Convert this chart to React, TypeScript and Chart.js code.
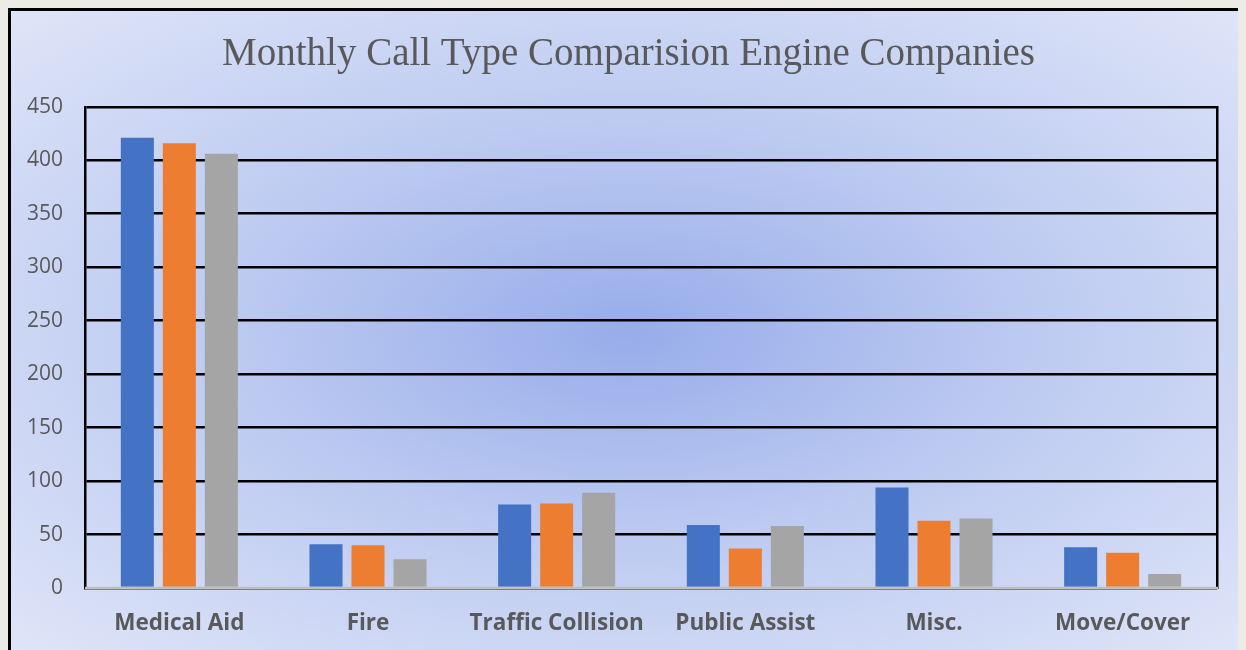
import React, { useEffect, useRef } from "react";
import { Chart, registerables } from "chart.js";

Chart.register(...registerables);

const categories = ["Medical Aid", "Fire", "Traffic Collision", "Public Assist", "Misc.", "Move/Cover"];
const seriesA = [421, 41, 78, 59, 94, 38];
const seriesB = [416, 40, 79, 37, 63, 33];
const seriesC = [406, 27, 89, 58, 65, 13];
const seriesNames = ["Engine A", "Engine B", "Engine C"];
const seriesColors = ["#4472C4", "#ED7D31", "#A5A5A5"];
const yTicks = [0, 50, 100, 150, 200, 250, 300, 350, 400, 450];
const titleText = "Monthly Call Type Comparision Engine Companies";

const baseLine = {
  id: "baseLine",
  afterDatasetsDraw(chart: any) {
    const { ctx, chartArea } = chart;
    ctx.save();
    ctx.strokeStyle = "#BFBFBF";
    ctx.lineWidth = 2.5;
    ctx.beginPath();
    ctx.moveTo(chartArea.left, chartArea.bottom);
    ctx.lineTo(chartArea.right + 1, chartArea.bottom);
    ctx.stroke();
    ctx.restore();
  },
};

export default function App() {
  const ref = useRef<HTMLCanvasElement>(null);
  useEffect(() => {
    document.body.style.background = "#ecebe6";
    document.body.style.overflow = "hidden";
    const chart = new Chart(ref.current!, {
      type: "bar",
      data: {
        labels: categories,
        datasets: [seriesA, seriesB, seriesC].map((d, i) => ({
          label: seriesNames[i],
          data: d,
          backgroundColor: seriesColors[i],
          categoryPercentage: 0.668,
          barPercentage: 0.786,
        })),
      },
      options: {
        responsive: false,
        animation: false,
        layout: { padding: 0 },
        plugins: {
          legend: { display: false },
          tooltip: { enabled: false },
          title: {
            display: true,
            text: titleText,
            color: "#595959",
            font: { family: "'Liberation Serif', 'Times New Roman', serif", size: 39, weight: "normal" },
            padding: { top: 20, bottom: 29 },
          },
        },
        scales: {
          x: {
            grid: { display: false, drawTicks: false },
            border: { display: false },
            afterFit: (axis: any) => {
              axis.height = 62;
            },
            ticks: {
              color: "#595959",
              padding: 22,
              font: { family: "'Open Sans', sans-serif", size: 22.5, weight: "bold" },
            },
          },
          y: {
            min: 0,
            max: 450,
            afterBuildTicks: (axis: any) => {
              axis.ticks = yTicks.map((v) => ({ value: v }));
            },
            afterFit: (axis: any) => {
              axis.width = 74;
            },
            grid: {
              color: "#000",
              lineWidth: 2.5,
              drawTicks: false,
            },
            border: { display: true, color: "#000", width: 2.5 },
            ticks: {
              color: "#595959",
              padding: 22,
              font: { family: "'Open Sans', sans-serif", size: 21 },
            },
          },
          y2: {
            position: "right",
            min: 0,
            max: 450,
            afterFit: (axis: any) => {
              axis.width = 29;
            },
            grid: { display: false, drawTicks: false },
            border: { display: true, color: "#000", width: 2.5 },
            ticks: { display: false },
          },
        },
      },
      plugins: [baseLine],
    });
    return () => chart.destroy();
  }, []);

  return (
    <div
      style={{
        width: 1238,
        height: 642,
        boxSizing: "border-box",
        borderLeft: "3px solid #000",
        borderTop: "3px solid #000",
        background: "radial-gradient(ellipse farthest-corner at 50% 50%, #97acea 0%, #bccaf1 45%, #dfe5f8 100%)",
        overflow: "hidden",
      }}
    >
      <canvas ref={ref} width={1235} height={639} style={{ display: "block", width: 1235, height: 639 }} />
    </div>
  );
}
